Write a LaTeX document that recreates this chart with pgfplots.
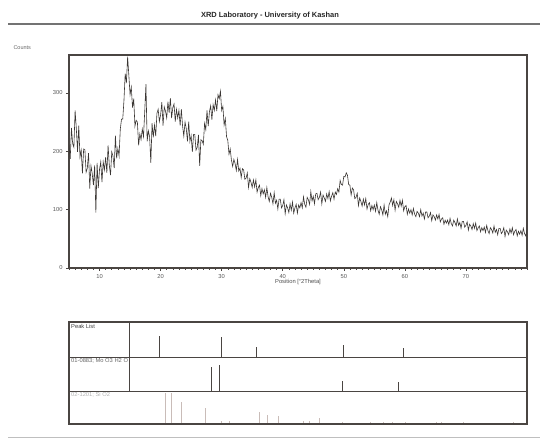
\documentclass[border=0pt]{standalone}
\usepackage{fontspec}
\setmainfont{Liberation Sans}
\usepackage{pgfplots}
\pgfplotsset{compat=1.18}
\definecolor{framec}{HTML}{4A4542}
\definecolor{curvec}{HTML}{3A3633}
\definecolor{lightc}{HTML}{C9BCB8}
\newcommand{\smallfnt}{\fontsize{5.8}{6.8}\selectfont}
\begin{document}
\begin{tikzpicture}
\useasboundingbox (0,0) rectangle (540bp,443bp);
% title and rules
\node[font=\fontsize{7.5}{8.5}\selectfont\bfseries, text=black!85] at (270bp,427bp) {XRD Laboratory - University of Kashan};
\draw[line width=1.6bp, black!55] (8bp,419bp) -- (540bp,419bp);
\draw[line width=0.8bp, black!25] (8bp,6bp) -- (540bp,6bp);
\node[anchor=west, font=\fontsize{5.5}{6.5}\selectfont, text=black!60] at (10bp,395bp) {Counts};

\begin{axis}[at={(69bp,175bp)}, anchor=south west, scale only axis,
  width=458bp, height=213bp,
  xmin=5, xmax=80, ymin=0, ymax=365,
  xtick={10,20,...,70}, minor xtick={5,...,80}, ytick={0,100,200,300},
  xtick pos=bottom, ytick pos=left, tick align=outside,
  major tick length=3bp, minor tick length=2bp,
  axis line style={draw=framec, line width=1.3bp},
  tick style={draw=framec, line width=0.5bp},
  ticklabel style={font=\fontsize{5.8}{6.8}\selectfont, text=black!65},
  /pgf/number format/assume math mode=true,
  xlabel={Position [°2Theta]}, xlabel style={font=\fontsize{5.8}{6.8}\selectfont, text=black!70, yshift=6bp},
  clip=true]
\addplot[curvec, line width=0.6bp] coordinates {
(5.0,210) (5.2,187) (5.4,240) (5.6,213) (5.8,207) (6.0,270) (6.2,239) (6.4,199) (6.6,244) (6.8,190)
(7.0,202) (7.2,162) (7.4,204) (7.6,203) (7.8,164) (8.0,171) (8.2,197) (8.4,136) (8.6,175) (8.8,162)
(9.0,142) (9.2,176) (9.4,95) (9.6,180) (9.8,137) (10.0,169) (10.2,182) (10.4,147) (10.6,182) (10.8,168)
(11.0,190) (11.2,163) (11.4,210) (11.6,176) (11.8,159) (12.0,199) (12.2,192) (12.4,171) (12.6,227) (12.8,188)
(13.0,205) (13.2,192) (13.4,238) (13.6,255) (13.8,255) (14.0,287) (14.2,333) (14.4,317) (14.6,362) (14.8,330)
(15.0,297) (15.2,310) (15.4,275) (15.6,290) (15.8,243) (16.0,253) (16.2,250) (16.4,210) (16.6,230) (16.8,220)
(17.0,238) (17.2,225) (17.4,268) (17.6,315) (17.8,217) (18.0,235) (18.2,225) (18.4,180) (18.6,248) (18.8,224)
(19.0,245) (19.2,226) (19.4,265) (19.6,272) (19.8,251) (20.0,262) (20.2,284) (20.4,244) (20.6,276) (20.8,269)
(21.0,257) (21.2,285) (21.4,266) (21.6,291) (21.8,257) (22.0,275) (22.2,281) (22.4,251) (22.6,272) (22.8,257)
(23.0,270) (23.2,244) (23.4,272) (23.6,243) (23.8,226) (24.0,250) (24.2,239) (24.4,217) (24.6,251) (24.8,217)
(25.0,227) (25.2,199) (25.4,229) (25.6,229) (25.8,202) (26.0,207) (26.2,228) (26.4,175) (26.6,220) (26.8,218)
(27.0,212) (27.2,248) (27.4,237) (27.6,270) (27.8,243) (28.0,268) (28.2,278) (28.4,254) (28.6,280) (28.8,270)
(29.0,288) (29.2,269) (29.4,297) (29.6,290) (29.8,303) (30.0,270) (30.2,277) (30.4,245) (30.6,256) (30.8,225)
(31.0,219) (31.2,195) (31.4,204) (31.6,185) (31.8,174) (32.0,186) (32.2,179) (32.4,167) (32.6,186) (32.8,166)
(33.0,171) (33.2,155) (33.4,170) (33.6,168) (33.8,152) (34.0,154) (34.2,163) (34.4,138) (34.6,153) (34.8,147)
(35.0,138) (35.2,151) (35.4,139) (35.6,151) (35.8,130) (36.0,138) (36.2,142) (36.4,124) (36.6,136) (36.8,127)
(37.0,134) (37.2,121) (37.4,138) (37.6,122) (37.8,114) (38.0,128) (38.2,121) (38.4,110) (38.6,129) (38.8,111)
(39.0,116) (39.2,101) (39.4,118) (39.6,118) (39.8,103) (40.0,107) (40.2,117) (40.4,93) (40.6,108) (40.8,103)
(41.0,95) (41.2,110) (41.4,99) (41.6,113) (41.8,94) (42.0,103) (42.2,109) (42.4,94) (42.6,108) (42.8,103)
(43.0,112) (43.2,103) (43.4,122) (43.6,109) (43.8,104) (44.0,121) (44.2,117) (44.4,109) (44.6,131) (44.8,115)
(45.0,123) (45.2,110) (45.4,127) (45.6,128) (45.8,117) (46.0,121) (46.2,130) (46.4,110) (46.6,125) (46.8,120)
(47.0,114) (47.2,127) (47.4,119) (47.6,131) (47.8,115) (48.0,123) (48.2,129) (48.4,118) (48.6,130) (48.8,126)
(49.0,136) (49.2,130) (49.4,150) (49.6,143) (49.8,142) (50.0,157) (50.2,156) (50.4,163) (50.6,159) (50.8,143)
(51.0,142) (51.2,125) (51.4,137) (51.6,134) (51.8,119) (52.0,121) (52.2,128) (52.4,107) (52.6,120) (52.8,114)
(53.0,106) (53.2,118) (53.4,108) (53.6,119) (53.8,101) (54.0,109) (54.2,112) (54.4,98) (54.6,107) (54.8,100)
(55.0,108) (55.2,97) (55.4,112) (55.6,99) (55.8,92) (56.0,105) (56.2,100) (56.4,91) (56.6,108) (56.8,92)
(57.0,98) (57.2,88) (57.4,108) (57.6,113) (57.8,120) (58.0,107) (58.2,117) (58.4,99) (58.6,114) (58.8,110)
(59.0,104) (59.2,116) (59.4,106) (59.6,116) (59.8,98) (60.0,105) (60.2,107) (60.4,92) (60.6,101) (60.8,94)
(61.0,100) (61.2,91) (61.4,102) (61.6,92) (61.8,88) (62.0,97) (62.2,94) (62.4,88) (62.6,100) (62.8,89)
(63.0,94) (63.2,84) (63.4,96) (63.6,96) (63.8,86) (64.0,89) (64.2,95) (64.4,81) (64.6,91) (64.8,88)
(65.0,82) (65.2,91) (65.4,84) (65.6,92) (65.8,79) (66.0,84) (66.2,86) (66.4,75) (66.6,82) (66.8,77)
(67.0,82) (67.2,74) (67.4,85) (67.6,76) (67.8,72) (68.0,82) (68.2,78) (68.4,72) (68.6,84) (68.8,73)
(69.0,78) (69.2,68) (69.4,80) (69.6,80) (69.8,70) (70.0,73) (70.2,79) (70.4,65) (70.6,75) (70.8,72)
(71.0,66) (71.2,76) (71.4,68) (71.6,77) (71.8,64) (72.0,69) (72.2,72) (72.4,62) (72.6,69) (72.8,64)
(73.0,70) (73.2,61) (73.4,73) (73.6,64) (73.8,59) (74.0,69) (74.2,66) (74.4,60) (74.6,72) (74.8,61)
(75.0,66) (75.2,57) (75.4,68) (75.6,68) (75.8,59) (76.0,62) (76.2,69) (76.4,54) (76.6,65) (76.8,62)
(77.0,57) (77.2,67) (77.4,60) (77.6,69) (77.8,57) (78.0,63) (78.2,66) (78.4,55) (78.6,63) (78.8,58)
(79.0,64) (79.2,56) (79.4,68) (79.6,59) (79.8,55) (80.0,65)
};
\end{axis}

% stick panels
\pgfplotsset{stickpanel/.style={anchor=south west, scale only axis, width=458bp,
  xmin=5, xmax=80, ymin=0, ymax=1, xtick=\empty, ytick=\empty,
  axis line style={draw=framec, line width=0.8bp}}}
\begin{axis}[stickpanel, at={(69bp,86bp)}, height=35bp]
\addplot[ycomb, framec, line width=0.6bp, mark=none] coordinates {
(19.8,0.59) (30.0,0.56) (35.6,0.29) (50.0,0.35) (59.7,0.26)};
\end{axis}
\begin{axis}[stickpanel, at={(69bp,52bp)}, height=34bp]
\addplot[ycomb, framec, line width=0.9bp, mark=none] coordinates {
(28.4,0.70) (29.7,0.76) (49.8,0.29) (59.0,0.26)};
\end{axis}
\begin{axis}[stickpanel, at={(69bp,19bp)}, height=33bp]
\addplot[ycomb, lightc, line width=0.6bp, mark=none] coordinates {
(20.8,0.95) (21.8,0.95) (23.4,0.68) (27.4,0.47) (30.0,0.09) (31.3,0.09)
(36.2,0.35) (37.5,0.26) (39.2,0.24) (43.4,0.08) (44.4,0.08) (46.0,0.18)
(49.8,0.06) (54.4,0.06) (56.4,0.06) (57.9,0.06) (60.0,0.06) (65.2,0.05)
(66.0,0.05) (69.5,0.05) (77.7,0.05)};
\end{axis}
\draw[framec, line width=1.5bp] (69bp,19bp) rectangle (527bp,121bp);
\draw[framec, line width=0.6bp] (129bp,121bp) -- (129bp,52bp);
\node[anchor=north west, inner sep=1bp, font=\smallfnt, text=black!75] at (70bp,120bp) {Peak List};
\node[anchor=north west, inner sep=1bp, font=\smallfnt, text=black!60] at (70bp,86bp) {01-0883; Mo O3 H2 O};
\node[anchor=north west, inner sep=1bp, font=\smallfnt, text=black!30] at (70bp,52bp) {02-1201; Si O2};
\end{tikzpicture}
\end{document}
